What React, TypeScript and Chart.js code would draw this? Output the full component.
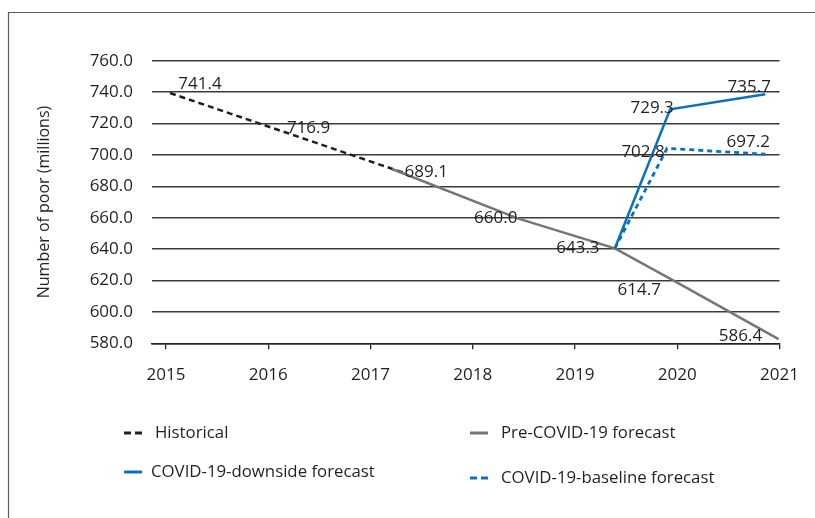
import React, { useEffect, useRef } from "react";
import { Chart, registerables } from "chart.js";

Chart.register(...registerables);

// ---- data ----
const yearTicks = [2015, 2016, 2017, 2018, 2019, 2020, 2021];
const yTickValues = [580, 600, 620, 640, 660, 680, 700, 720, 740, 760];

const historicalX = [2015.04, 2016.18, 2017.33];
const historicalY = [739.4, 714.1, 688.5];
const historicalLabels = ["741.4", "716.9", "689.1"];

const preCovidX = [2017.21, 2018.44, 2019.39, 2020.0, 2020.99];
const preCovidY = [691.0, 659.6, 640.5, 618.7, 582.7];
const preCovidLabels = ["", "660.0", "643.3", "614.7", "586.4"];

const downsideX = [2019.39, 2019.93, 2020.86];
const downsideY = [640.5, 729.0, 738.6];
const downsideLabels = ["", "729.3", "735.7"];

const baselineX = [2019.39, 2019.9, 2020.86];
const baselineY = [640.5, 704.2, 700.4];
const baselineLabels = ["", "702.8", "697.2"];

const seriesNames = [
  "Historical",
  "Pre-COVID-19 forecast",
  "COVID-19-downside forecast",
  "COVID-19-baseline forecast",
];

// ---- styles ----
const FONT = "'Open Sans', 'DejaVu Sans', sans-serif";
const TEXT = "#231F20";
const BLUE = "#0A6FBE";
const GRAY = "#767676";

// label offsets relative to the point (styling only)
const labelOffsets: number[][][] = [
  [[30, -9], [22, -5], [22, -1]],
  [[0, 0], [-22, 0], [-37, 0], [-38, 8], [-38, -3]],
  [[0, 0], [-18, -1], [-16, -7]],
  [[0, 0], [-24, 4], [-17, -12]],
];
const allLabels = [historicalLabels, preCovidLabels, downsideLabels, baselineLabels];

const legendLayout = [
  { mx: 124, y: 433, tx: 155 },
  { mx: 470, y: 433, tx: 501 },
  { mx: 124, y: 472, tx: 151 },
  { mx: 470, y: 478, tx: 501 },
];

const toPts = (xs: number[], ys: number[]) => xs.map((x, i) => ({ x, y: ys[i] }));

const framePlugin = {
  id: "frame",
  beforeDraw(chart: any) {
    const ctx = chart.ctx;
    ctx.save();
    ctx.strokeStyle = "#5a5a5a";
    ctx.lineWidth = 1.2;
    ctx.beginPath();
    ctx.moveTo(8.5, 518);
    ctx.lineTo(8.5, 12.5);
    ctx.lineTo(815, 12.5);
    ctx.stroke();
    ctx.restore();
  },
};

const dataLabelPlugin = {
  id: "dataLabels",
  afterDatasetsDraw(chart: any) {
    const ctx = chart.ctx;
    ctx.save();
    ctx.font = `17px ${FONT}`;
    ctx.fillStyle = TEXT;
    ctx.textAlign = "center";
    ctx.textBaseline = "middle";
    chart.data.datasets.forEach((_ds: any, i: number) => {
      const meta = chart.getDatasetMeta(i);
      meta.data.forEach((el: any, j: number) => {
        const t = allLabels[i][j];
        if (!t) return;
        const off = labelOffsets[i][j];
        ctx.fillText(t, el.x + off[0], el.y + off[1]);
      });
    });
    ctx.restore();
  },
};

const legendPlugin = {
  id: "customLegend",
  afterDraw(chart: any) {
    const ctx = chart.ctx;
    ctx.save();
    chart.data.datasets.forEach((ds: any, i: number) => {
      const L = legendLayout[i];
      ctx.strokeStyle = ds.borderColor;
      ctx.lineWidth = 3;
      ctx.setLineDash(ds.borderDash && ds.borderDash.length ? [7, 4] : []);
      ctx.beginPath();
      ctx.moveTo(L.mx, L.y);
      ctx.lineTo(L.mx + 18, L.y);
      ctx.stroke();
      ctx.setLineDash([]);
      ctx.font = `16.8px ${FONT}`;
      ctx.fillStyle = TEXT;
      ctx.textAlign = "left";
      ctx.textBaseline = "middle";
      ctx.fillText(ds.label, L.tx, L.y);
    });
    ctx.restore();
  },
};

export default function App() {
  const ref = useRef<HTMLCanvasElement | null>(null);

  useEffect(() => {
    if (!ref.current) return;
    const chart = new Chart(ref.current, {
      type: "line",
      data: {
        datasets: [
          {
            label: seriesNames[0],
            data: toPts(historicalX, historicalY),
            borderColor: TEXT,
            borderWidth: 2.5,
            borderDash: [6, 4],
            pointRadius: 0,
            order: 3,
          },
          {
            label: seriesNames[1],
            data: toPts(preCovidX, preCovidY),
            borderColor: GRAY,
            borderWidth: 2.5,
            pointRadius: 0,
            order: 2,
          },
          {
            label: seriesNames[2],
            data: toPts(downsideX, downsideY),
            borderColor: BLUE,
            borderWidth: 2.5,
            pointRadius: 0,
            order: 0,
          },
          {
            label: seriesNames[3],
            data: toPts(baselineX, baselineY),
            borderColor: BLUE,
            borderWidth: 2.8,
            borderDash: [5, 4],
            pointRadius: 0,
            order: 1,
          },
        ],
      },
      options: {
        animation: false,
        responsive: false,
        devicePixelRatio: 1,
        layout: { padding: { top: 60.7, right: 33, bottom: 0, left: 0 } },
        plugins: {
          legend: { display: false },
          tooltip: { enabled: false },
        },
        scales: {
          x: {
            type: "linear",
            min: 2014.864,
            max: 2021,
            afterBuildTicks: (s: any) => {
              s.ticks = yearTicks.map((v) => ({ value: v }));
            },
            afterFit: (s: any) => {
              s.height = 518 - 343.3;
            },
            ticks: {
              font: { family: FONT, size: 17 },
              color: TEXT,
              padding: 16,
              maxRotation: 0,
              callback: (v: any) => String(v),
            },
            grid: {
              drawOnChartArea: false,
              drawTicks: true,
              tickLength: 6,
              color: "#222",
              lineWidth: 1.3,
            },
            border: { display: true, color: "#222", width: 1.5 },
          },
          y: {
            type: "linear",
            min: 580,
            max: 760,
            afterBuildTicks: (s: any) => {
              s.ticks = yTickValues.map((v) => ({ value: v }));
            },
            afterFit: (s: any) => {
              s.width = 152;
            },
            ticks: {
              font: { family: FONT, size: 17 },
              color: TEXT,
              padding: 19,
              callback: (v: any) => Number(v).toFixed(1),
            },
            grid: {
              drawTicks: false,
              color: "#3c3c3c",
              lineWidth: 1.4,
            },
            border: { display: false },
            title: {
              display: true,
              text: "Number of poor (millions)",
              font: { family: FONT, size: 16 },
              color: TEXT,
              padding: { top: 35, bottom: 0 },
            },
          },
        },
      },
      plugins: [framePlugin, dataLabelPlugin, legendPlugin],
    } as any);
    return () => chart.destroy();
  }, []);

  return (
    <div style={{ position: "fixed", left: 0, top: 0, width: 815, height: 518, background: "#fff" }}>
      <canvas ref={ref} width={815} height={518} style={{ width: 815, height: 518, display: "block" }} />
    </div>
  );
}
